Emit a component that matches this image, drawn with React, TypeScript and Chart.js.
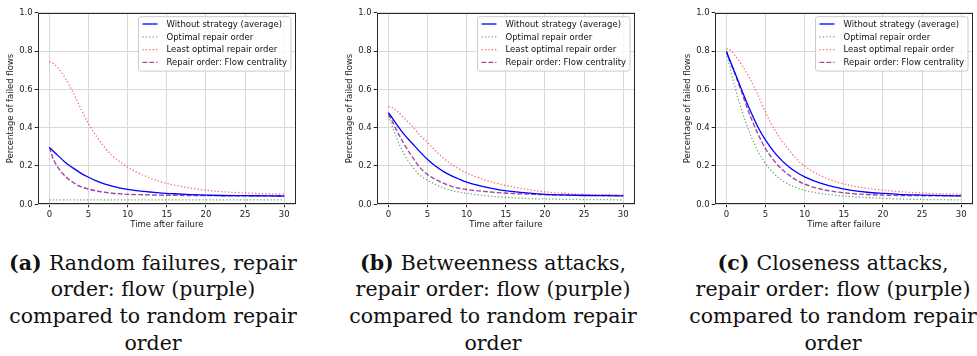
import React, { useEffect, useRef } from "react";
import { Chart, registerables } from "chart.js";

Chart.register(...registerables);

// ---------------- data ----------------
const timeSteps = [0, 0.5, 1, 2, 3, 4, 5, 6, 7, 8, 9, 10, 12, 14, 16, 18, 20, 22, 25, 28, 30];
const xTicks = [0, 5, 10, 15, 20, 25, 30];
const yTicks = [0, 0.2, 0.4, 0.6, 0.8, 1.0];
const seriesLabels = [
  "Without strategy (average)",
  "Optimal repair order",
  "Least optimal repair order",
  "Repair order: Flow centrality",
];
const xTitle = "Time after failure";
const yTitle = "Percentage of failed flows";

// (a) Random failures
const randomWithout = [0.297, 0.277, 0.258, 0.22, 0.19, 0.163, 0.141, 0.122, 0.107, 0.095, 0.085, 0.078, 0.067, 0.06, 0.055, 0.051, 0.048, 0.046, 0.045, 0.044, 0.043];
const randomOptimal = [0.023, 0.023, 0.023, 0.023, 0.023, 0.023, 0.023, 0.023, 0.023, 0.023, 0.023, 0.023, 0.023, 0.023, 0.023, 0.023, 0.023, 0.023, 0.023, 0.023, 0.023];
const randomLeast = [0.745, 0.735, 0.715, 0.66, 0.585, 0.5, 0.42, 0.355, 0.3, 0.255, 0.222, 0.193, 0.152, 0.12, 0.1, 0.085, 0.074, 0.066, 0.059, 0.055, 0.053];
const randomFlow = [0.297, 0.235, 0.198, 0.147, 0.115, 0.092, 0.08, 0.07, 0.063, 0.058, 0.055, 0.052, 0.05, 0.048, 0.047, 0.046, 0.046, 0.045, 0.045, 0.044, 0.044];

// (b) Betweenness attacks
const betweenWithout = [0.478, 0.45, 0.42, 0.365, 0.32, 0.275, 0.234, 0.2, 0.172, 0.15, 0.132, 0.116, 0.094, 0.077, 0.066, 0.058, 0.052, 0.049, 0.046, 0.045, 0.044];
const betweenOptimal = [0.46, 0.405, 0.35, 0.262, 0.2, 0.153, 0.126, 0.104, 0.085, 0.073, 0.064, 0.057, 0.047, 0.039, 0.034, 0.03, 0.028, 0.026, 0.025, 0.024, 0.023];
const betweenLeast = [0.51, 0.505, 0.49, 0.45, 0.41, 0.362, 0.322, 0.28, 0.242, 0.21, 0.185, 0.163, 0.132, 0.108, 0.09, 0.076, 0.065, 0.058, 0.052, 0.05, 0.049];
const betweenFlow = [0.47, 0.433, 0.39, 0.315, 0.25, 0.193, 0.155, 0.13, 0.11, 0.095, 0.084, 0.077, 0.068, 0.061, 0.056, 0.053, 0.05, 0.048, 0.047, 0.046, 0.045];

// (c) Closeness attacks
const closeWithout = [0.797, 0.745, 0.695, 0.592, 0.493, 0.405, 0.335, 0.278, 0.232, 0.195, 0.166, 0.143, 0.11, 0.088, 0.073, 0.063, 0.057, 0.052, 0.048, 0.045, 0.044];
const closeOptimal = [0.79, 0.705, 0.625, 0.485, 0.37, 0.28, 0.212, 0.163, 0.128, 0.103, 0.086, 0.073, 0.057, 0.047, 0.04, 0.035, 0.031, 0.028, 0.025, 0.024, 0.023];
const closeLeast = [0.812, 0.805, 0.782, 0.725, 0.655, 0.573, 0.478, 0.4, 0.336, 0.282, 0.235, 0.2, 0.15, 0.118, 0.097, 0.083, 0.074, 0.066, 0.059, 0.054, 0.052];
const closeFlow = [0.797, 0.742, 0.69, 0.578, 0.465, 0.37, 0.29, 0.232, 0.186, 0.152, 0.125, 0.105, 0.08, 0.065, 0.056, 0.051, 0.048, 0.046, 0.045, 0.044, 0.044];

const captionTags = ["(a)", "(b)", "(c)"];
const captionLines = [
  ["Random failures, repair", "order: flow (purple)", "compared to random repair", "order"],
  ["Betweenness attacks,", "repair order: flow (purple)", "compared to random repair", "order"],
  ["Closeness attacks,", "repair order: flow (purple)", "compared to random repair", "order"],
];

// ---------------- styles ----------------
const seriesStyles = [
  { color: "rgb(0,0,255)", dash: [] as number[], width: 1.3 },
  { color: "rgba(0,128,0,0.6)", dash: [1.3, 2.1], width: 1.3 },
  { color: "rgba(255,0,0,0.6)", dash: [1.3, 2.1], width: 1.3 },
  { color: "rgba(128,0,128,0.72)", dash: [4.8, 2.1], width: 1.4 },
];

const FONT = '"DejaVu Sans", sans-serif';
const FS = 8.5;

const frameLegendPlugin = {
  id: "frameLegend",
  afterDraw(chart: any) {
    const { ctx, chartArea: a } = chart;
    ctx.save();
    // spines
    ctx.strokeStyle = "#262626";
    ctx.lineWidth = 1;
    const l = Math.round(a.left) + 0.5;
    const t = Math.round(a.top) + 0.5;
    const r = Math.round(a.right) - 0.5;
    const b = Math.round(a.bottom) - 0.5;
    ctx.strokeRect(l, t, r - l, b - t);

    // legend
    ctx.font = `${FS}px ${FONT}`;
    const ds = chart.data.datasets;
    let maxW = 0;
    ds.forEach((d: any) => {
      maxW = Math.max(maxW, ctx.measureText(d.label).width);
    });
    const boxW = 4 + 15 + 9 + maxW + 4;
    const rowH = 12.8;
    const boxH = 7.3 + rowH * (ds.length - 1) + 8.7;
    const bx = a.right - 5 - boxW;
    const by = a.top + 4;
    const rad = 2.5;
    ctx.beginPath();
    ctx.moveTo(bx + rad, by);
    ctx.lineTo(bx + boxW - rad, by);
    ctx.arcTo(bx + boxW, by, bx + boxW, by + rad, rad);
    ctx.lineTo(bx + boxW, by + boxH - rad);
    ctx.arcTo(bx + boxW, by + boxH, bx + boxW - rad, by + boxH, rad);
    ctx.lineTo(bx + rad, by + boxH);
    ctx.arcTo(bx, by + boxH, bx, by + boxH - rad, rad);
    ctx.lineTo(bx, by + rad);
    ctx.arcTo(bx, by, bx + rad, by, rad);
    ctx.closePath();
    ctx.fillStyle = "rgba(255,255,255,0.8)";
    ctx.fill();
    ctx.strokeStyle = "#cccccc";
    ctx.lineWidth = 1;
    ctx.stroke();

    ds.forEach((d: any, i: number) => {
      const cy = by + 7.3 + i * rowH;
      ctx.beginPath();
      ctx.setLineDash(d.borderDash || []);
      ctx.strokeStyle = d.borderColor;
      ctx.lineWidth = d.borderWidth;
      ctx.moveTo(bx + 4, cy);
      ctx.lineTo(bx + 19, cy);
      ctx.stroke();
      ctx.setLineDash([]);
      ctx.fillStyle = "#111";
      ctx.textAlign = "left";
      ctx.textBaseline = "middle";
      ctx.fillText(d.label, bx + 28, cy + 0.5);
    });
    ctx.restore();
  },
};

type PanelProps = { left: number; series: number[][] };

function Panel({ left, series }: PanelProps) {
  const ref = useRef<HTMLCanvasElement | null>(null);
  useEffect(() => {
    if (!ref.current) return;
    const chart = new Chart(ref.current, {
      type: "line",
      data: {
        datasets: series.map((vals, i) => ({
          label: seriesLabels[i],
          data: timeSteps.map((t, k) => ({ x: t, y: vals[k] })),
          borderColor: seriesStyles[i].color,
          backgroundColor: seriesStyles[i].color,
          borderDash: seriesStyles[i].dash,
          borderWidth: seriesStyles[i].width,
          pointRadius: 0,
          fill: false,
          cubicInterpolationMode: "monotone" as const,
        })),
      },
      options: {
        animation: false,
        responsive: false,
        devicePixelRatio: 1,
        layout: { padding: { top: 12.7, right: 4, bottom: 2, left: 0 } },
        plugins: { legend: { display: false }, tooltip: { enabled: false }, title: { display: false } },
        scales: {
          x: {
            type: "linear",
            min: -1.5,
            max: 31.5,
            afterBuildTicks: (s: any) => {
              s.ticks = xTicks.map((v) => ({ value: v }));
            },
            afterFit: (s: any) => {
              s.height = 25.7;
            },
            ticks: {
              autoSkip: false,
              maxRotation: 0,
              padding: 2,
              color: "#222",
              font: { family: FONT, size: FS },
              callback: (v: any) => String(v),
            },
            grid: { color: "#d9d9d9", lineWidth: 1, tickLength: 3, tickColor: "#262626", drawTicks: true },
            border: { display: false },
            title: {
              display: true,
              text: xTitle,
              color: "#222",
              font: { family: FONT, size: FS },
              padding: { top: 0, bottom: 0 },
            },
          },
          y: {
            type: "linear",
            min: 0,
            max: 1,
            afterBuildTicks: (s: any) => {
              s.ticks = yTicks.map((v) => ({ value: v }));
            },
            afterFit: (s: any) => {
              s.width = 37.7;
            },
            ticks: {
              autoSkip: false,
              padding: 2,
              color: "#222",
              font: { family: FONT, size: FS },
              callback: (v: any) => Number(v).toFixed(1),
            },
            grid: { color: "#d9d9d9", lineWidth: 1, tickLength: 3, tickColor: "#262626", drawTicks: true },
            border: { display: false },
            title: {
              display: true,
              text: yTitle,
              color: "#222",
              font: { family: FONT, size: FS },
              padding: { top: 6, bottom: 0 },
            },
          },
        },
      },
      plugins: [frameLegendPlugin],
    } as any);
    return () => chart.destroy();
  }, []);
  return (
    <canvas
      ref={ref}
      width={300}
      height={232}
      style={{ position: "absolute", left, top: 0, width: 300, height: 232 }}
    />
  );
}

const panelLefts = [0, 339, 677];
const captionCenters = [153, 493, 833];

export default function App() {
  const panels = [
    [randomWithout, randomOptimal, randomLeast, randomFlow],
    [betweenWithout, betweenOptimal, betweenLeast, betweenFlow],
    [closeWithout, closeOptimal, closeLeast, closeFlow],
  ];
  return (
    <div
      style={{
        position: "fixed",
        left: 0,
        top: 0,
        width: 977,
        height: 356,
        background: "#fff",
        overflow: "hidden",
      }}
    >
      {panels.map((s, i) => (
        <Panel key={i} left={panelLefts[i]} series={s} />
      ))}
      {captionLines.map((lines, i) => (
        <div
          key={i}
          style={{
            position: "absolute",
            left: captionCenters[i] - 170,
            width: 340,
            top: 249.6,
            textAlign: "center",
            fontFamily: '"DejaVu Serif", serif',
            fontSize: 20.5,
            lineHeight: "26.7px",
            color: "#111",
            whiteSpace: "nowrap",
          }}
        >
          {lines.map((ln, k) => (
            <div key={k}>
              {k === 0 ? <b>{captionTags[i]} </b> : null}
              {ln}
            </div>
          ))}
        </div>
      ))}
    </div>
  );
}
